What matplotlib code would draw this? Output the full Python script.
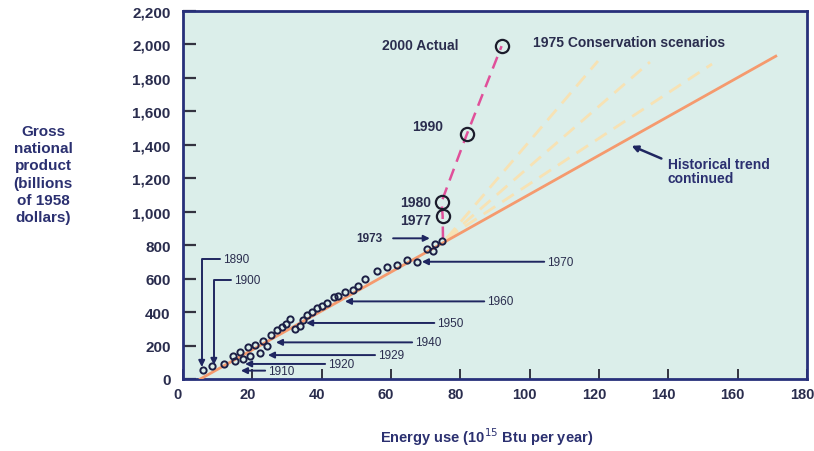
import matplotlib
matplotlib.use("Agg")
import matplotlib.pyplot as plt
from matplotlib.transforms import ScaledTranslation

plt.rcParams['font.family'] = ['Liberation Sans', 'DejaVu Sans']

# ---------------- data ----------------
hist_energy = [5.7, 8.5, 11.9, 15.0, 14.5, 17.4, 16.4, 19.3, 18.8, 20.8, 22.2, 24.3,
               23.2, 25.3, 27.0, 28.5, 29.7, 30.9, 32.3, 33.7, 34.5, 35.7, 37.1, 38.6,
               40.0, 41.4, 43.6, 44.8, 46.7, 49.1, 50.6, 52.5, 55.9, 58.8, 61.6, 64.5,
               67.6, 70.3, 72.2, 72.7, 74.6]
hist_gnp = [56, 80, 90, 109, 139, 120, 160, 139, 189, 203, 155, 195,
            229, 263, 293, 309, 329, 359, 299, 319, 355, 383, 399, 422,
            438, 454, 488, 498, 522, 534, 554, 598, 647, 668, 681, 711,
            701, 777, 767, 807, 827]

actual_years = [1973, 1977, 1980, 1990, 2000]
actual_energy = [75.0, 74.9, 74.6, 81.9, 91.9]
actual_gnp = [837, 973, 1060, 1464, 1990]

trend_energy = [5, 171]
trend_gnp = [0, 1930]

scen_energy = [[76, 119.7], [76, 134.7], [76, 152.6]]
scen_gnp = [[840, 1901], [840, 1895], [840, 1883]]

xticks = [0, 20, 40, 60, 80, 100, 120, 140, 160, 180]
yticks = [0, 200, 400, 600, 800, 1000, 1200, 1400, 1600, 1800, 2000, 2200]
ytick_labels = ['0', '200', '400', '600', '800', '1,000', '1,200', '1,400',
                '1,600', '1,800', '2,000', '2,200']

# year annotations: (label, text position, arrow target)
year_notes = [
    ('1910', (24.5, 50), (16.7, 50)),
    ('1920', (41.8, 90), (17.9, 90)),
    ('1929', (56.2, 143), (24.5, 143)),
    ('1940', (66.9, 219), (26.8, 219)),
    ('1950', (73.3, 335), (35.5, 335)),
    ('1960', (87.7, 464), (46.7, 464)),
    ('1970', (105.0, 701), (68.9, 701)),
]
elbow_notes = [
    ('1890', (11.5, 717), (5.4, 72)),
    ('1900', (14.6, 594), (8.9, 84)),
]

# ---------------- style ----------------
navy = '#27307a'
textc = '#2a2d4e'
arrowc = '#1f2660'
bg = '#dbeeea'

fig = plt.figure(figsize=(8.14, 4.52), dpi=100)
ax = fig.add_axes([183/814, 72/452, 624/814, 368/452])
ax.set_facecolor(bg)

ax.set_xlim(0, 180)
ax.set_ylim(0, 2200)

# conservation scenarios
for xs, ys in zip(scen_energy, scen_gnp):
    ax.plot(xs, ys, color='#f7e2b4', lw=2.0, ls=(0, (5, 3)), zorder=2)

# historical trend
ax.plot(trend_energy, trend_gnp, color='#f59a6e', lw=2, zorder=3)

# actual path
ax.plot(actual_energy, actual_gnp, color='#e0509a', lw=1.8, ls=(0, (5, 3)), zorder=3)
ax.plot(actual_energy[1:], actual_gnp[1:], ls='none', marker='o', ms=9.5,
        mfc='none', mec='#1c1c2c', mew=1.6, zorder=5)

# historical points
ax.plot(hist_energy, hist_gnp, ls='none', marker='o', ms=4.5, mfc='none',
        mec='#1c1f45', mew=1.4, zorder=4)

ap = dict(arrowstyle='-|>', color=arrowc, lw=1.4, mutation_scale=9,
          shrinkA=0, shrinkB=0)

for lab, tpos, tgt in year_notes:
    ax.annotate(lab, xy=tgt, xytext=tpos, ha='left', va='center', fontsize=8.5,
                color=textc, arrowprops=ap, zorder=6)

for lab, tpos, tgt in elbow_notes:
    ax.annotate(lab, xy=tgt, xytext=tpos, ha='left', va='center', fontsize=8.5,
                color=textc, zorder=6,
                arrowprops=dict(ap, connectionstyle='angle,angleA=0,angleB=90,rad=0'))

ax.annotate('1973', xy=(71.2, 841), xytext=(57.4, 841), ha='right', va='center',
            fontsize=8.5, fontweight='bold', color=textc,
            arrowprops=dict(ap, shrinkA=6), zorder=6)

ax.text(79.6, 1996, '2000 Actual', ha='right', va='center', fontsize=10,
        fontweight='bold', color=textc)
ax.text(75.0, 1514, '1990', ha='right', va='center', fontsize=10,
        fontweight='bold', color=textc)
ax.text(71.7, 1060, '1980', ha='right', va='center', fontsize=10,
        fontweight='bold', color=textc)
ax.text(71.7, 950, '1977', ha='right', va='center', fontsize=10,
        fontweight='bold', color=textc)
ax.text(100.9, 2016, '1975 Conservation scenarios', ha='left', va='center',
        fontsize=10, fontweight='bold', color=textc)

ax.annotate('', xy=(129.4, 1394), xytext=(138, 1318),
            arrowprops=dict(ap, lw=1.8))
ax.text(139.9, 1328, 'Historical trend\ncontinued', ha='left', va='top',
        fontsize=10, fontweight='bold', color='#2b3070', linespacing=1.0)

# axes styling
for s in ax.spines.values():
    s.set_color(navy)
    s.set_linewidth(2)

ax.set_xticks(xticks)
ax.set_yticks(yticks)
ax.set_yticklabels(ytick_labels)
ax.tick_params(axis='y', direction='in', length=9.5, width=1.6, color='#333340',
               pad=9, labelsize=11, labelcolor=textc)
ax.tick_params(axis='x', direction='in', length=7, width=1.4, color='#333340',
               pad=6, labelsize=10.5, labelcolor=textc)
for lbl in ax.get_xticklabels() + ax.get_yticklabels():
    lbl.set_fontweight('bold')
shift = ScaledTranslation(-5/100, 0, fig.dpi_scale_trans)
for lbl in ax.get_xticklabels():
    lbl.set_transform(lbl.get_transform() + shift)

fig.text(487/814, 1 - 437/452, 'Energy use (10$^{15}$ Btu per year)', ha='center',
         va='center', fontsize=10.5, fontweight='bold', color='#2b3070')
fig.text(43/814, 1 - 175/452, 'Gross\nnational\nproduct\n(billions\nof 1958\ndollars)',
         ha='center', va='center', fontsize=11, fontweight='bold', color='#2b3070',
         linespacing=1.3)

fig.savefig('out.png', dpi=100)
